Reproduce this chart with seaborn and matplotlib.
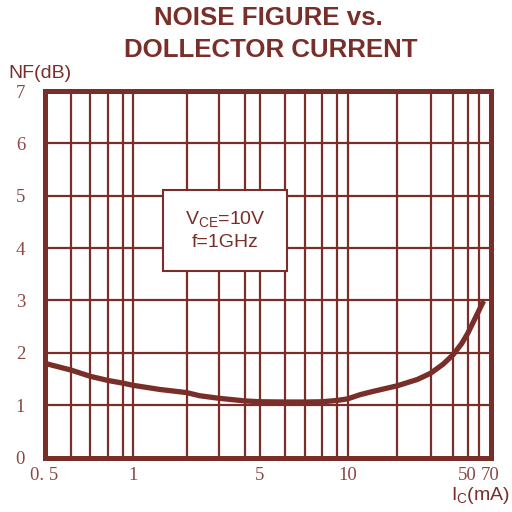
import numpy as np
import matplotlib
matplotlib.use("Agg")
import matplotlib.pyplot as plt
import seaborn as sns
from matplotlib.patches import Rectangle

# ---- data ----
ic_ma = [0.5, 0.6, 0.7, 0.8, 0.9, 1, 1.5, 2, 2.4, 3, 4, 5, 6, 7, 8, 9, 10, 12.5, 15, 20, 26, 30,
         35.5, 40, 46, 50, 55, 60, 64]
nf_db = [1.80, 1.67, 1.55, 1.47, 1.42, 1.38, 1.30, 1.24, 1.18, 1.13, 1.08, 1.065, 1.06, 1.06, 1.065,
         1.09, 1.12, 1.20, 1.26, 1.37, 1.49, 1.61, 1.78, 1.96, 2.18, 2.37, 2.59, 2.81, 2.99]

x_grid = [0.5, 0.6, 0.7, 0.8, 0.9, 1, 2, 3, 4, 5, 6, 7, 8, 9, 10, 20, 30, 40, 50, 60, 70]
x_labels = ["0. 5", "", "", "", "", "1", "", "", "", "5", "", "", "", "", "10", "", "", "", "50", "", "70"]
y_ticks = [0, 1, 2, 3, 4, 5, 6, 7]

title_lines = ["NOISE FIGURE vs.", "DOLLECTOR CURRENT"]
ylabel = "NF(dB)"
xlabel = "I$_C$(mA)"
note = "V$_{CE}$=10V\nf=1GHz"

# hand-drawn axis: position of each grid line along the axis (0..1)
grid_pos_px = [44.5, 71, 90.3, 108.3, 123, 132.7, 186.5, 219.3, 245.3, 260, 285.3, 304.7, 322.3,
               337, 347.7, 397.3, 430.7, 453, 467.7, 479, 490.5]
grid_pos = [(p - grid_pos_px[0]) / (grid_pos_px[-1] - grid_pos_px[0]) for p in grid_pos_px]

C = "#7a2e29"
CT = "#8a4844"

sns.set_theme(style="white")
plt.rcParams["mathtext.default"] = "regular"
plt.rcParams["font.family"] = ["Liberation Sans", "DejaVu Sans"]

fig = plt.figure(figsize=(5.12, 5.12), dpi=100)
ax = fig.add_axes([44.5 / 512, 1 - 457.5 / 512, 446 / 512, 366.5 / 512])


def fwd(x):
    return np.interp(x, x_grid, grid_pos)


def inv(p):
    return np.interp(p, grid_pos, x_grid)


ax.set_xscale("function", functions=(fwd, inv))

sns.lineplot(x=ic_ma, y=nf_db, ax=ax, color=C, linewidth=3.8, zorder=3,
             solid_capstyle="butt", solid_joinstyle="round")

ax.set_xlim(0.5, 70)
ax.set_ylim(0, 7)
ax.set_xticks(x_grid)
ax.set_xticklabels(x_labels)
ax.set_yticks(y_ticks)
ax.set_yticklabels([str(v) for v in y_ticks])
ax.xaxis.set_minor_locator(matplotlib.ticker.NullLocator())
ax.grid(True, color=C, linewidth=1.6)
ax.tick_params(axis="both", length=0, colors=CT, labelsize=13.5)
ax.tick_params(axis="x", pad=7)
ax.tick_params(axis="y", pad=14)
for lab in ax.get_xticklabels() + ax.get_yticklabels():
    lab.set_fontfamily("Liberation Serif")
ax.set_xlabel("")
ax.set_ylabel("")
for s in ax.spines.values():
    s.set_visible(True)
    s.set_color(C)
    s.set_linewidth(3.6)
    s.set_zorder(4)

# note box
ax.add_patch(Rectangle((0.266, 0.509), 0.278, 0.221, transform=ax.transAxes,
                       facecolor="white", edgecolor=C, linewidth=1.5, zorder=5))
ax.text(0.405, 0.62, note, transform=ax.transAxes, ha="center", va="center",
        color=C, fontsize=14, linespacing=1.35, zorder=6)

fig.text(268 / 512, 1 - 18 / 512, title_lines[0], ha="center", va="center", color=C,
         fontsize=18.6, fontweight="bold")
fig.text(271 / 512, 1 - 50 / 512, title_lines[1], ha="center", va="center", color=C,
         fontsize=18.6, fontweight="bold")
fig.text(40 / 512, 1 - 74 / 512, ylabel, ha="center", va="center", color=C, fontsize=14)
fig.text(480 / 512, 1 - 496 / 512, xlabel, ha="center", va="center", color=C, fontsize=14)

fig.savefig("out.png", dpi=100, facecolor="white")
